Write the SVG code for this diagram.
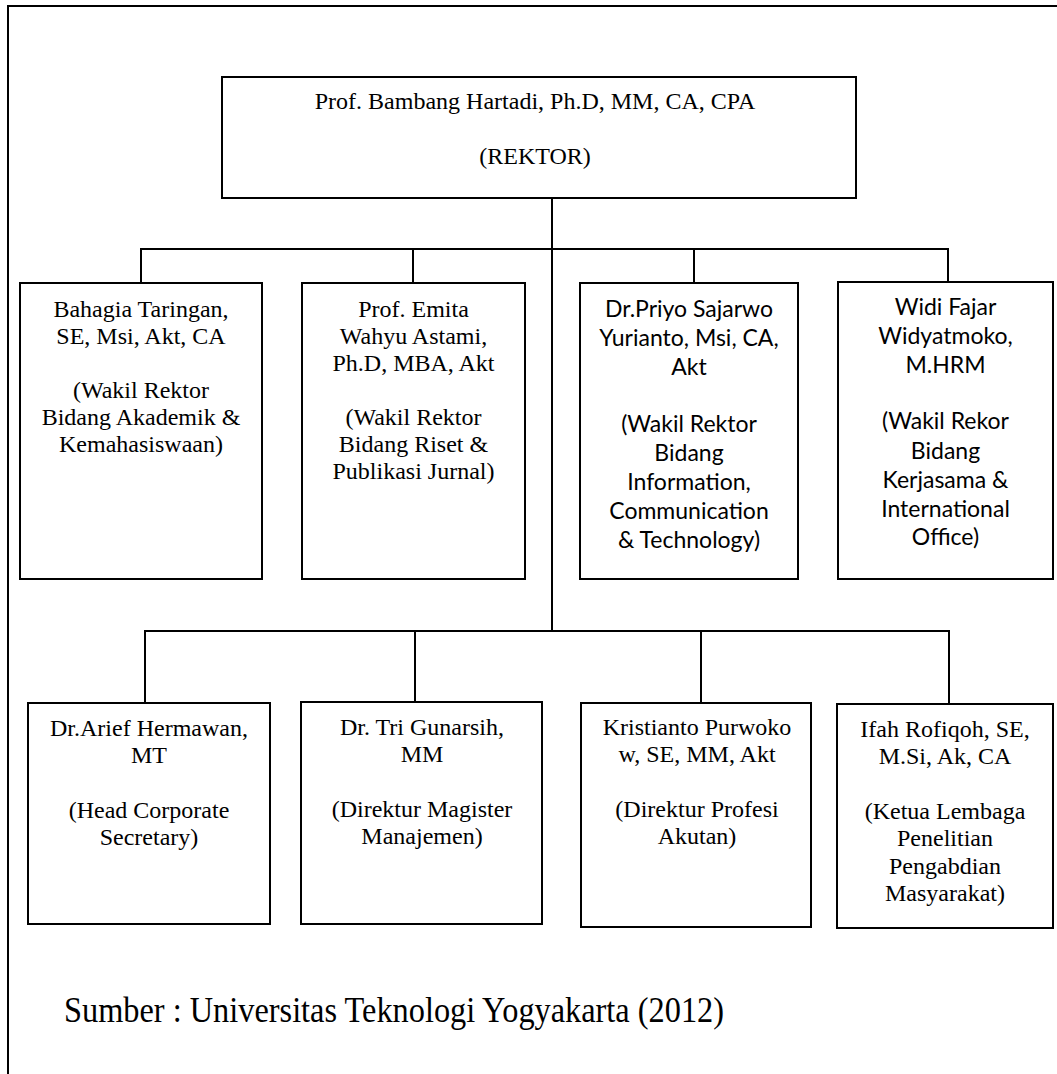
<svg xmlns="http://www.w3.org/2000/svg" width="1057" height="1074" viewBox="0 0 1057 1074">
<style>
.box{fill:#fff;stroke:#000;stroke-width:2}
.ln{stroke:#000;stroke-width:2;fill:none}
.t{font-family:"Liberation Serif","Times New Roman",serif;font-size:24px;fill:#000;text-anchor:middle}
.c{font-family:Lato,"Open Sans",sans-serif;font-size:23px;fill:#000;text-anchor:middle}
</style>
<rect width="1057" height="1074" fill="#fff"/>
<path class="ln" d="M8 1074 V6 H1057"/>
<g id="connectors">
<path class="ln" d="M552 198 V631"/>
<path class="ln" d="M141 283 V249 H948 V282"/>
<path class="ln" d="M413 249 V283"/>
<path class="ln" d="M694 249 V283"/>
<path class="ln" d="M145 703 V631 H949 V704"/>
<path class="ln" d="M415 631 V702"/>
<path class="ln" d="M701 631 V703"/>
</g>
<g id="rektor">
<rect class="box" x="222" y="77" width="634" height="121"/>
<text class="t" x="535" y="109">Prof. Bambang Hartadi, Ph.D, MM, CA, CPA</text>
<text class="t" x="535" y="164">(REKTOR)</text>
</g>
<g id="wr1">
<rect class="box" x="20" y="283" width="242" height="296"/>
<text class="t" x="141" y="317">Bahagia Taringan,</text>
<text class="t" x="141" y="344">SE, Msi, Akt, CA</text>
<text class="t" x="141" y="398">(Wakil Rektor</text>
<text class="t" x="141" y="425">Bidang Akademik &amp;</text>
<text class="t" x="141" y="452">Kemahasiswaan)</text>
</g>
<g id="wr2">
<rect class="box" x="302" y="283" width="223" height="296"/>
<text class="t" x="413.5" y="317">Prof. Emita</text>
<text class="t" x="413.5" y="344">Wahyu Astami,</text>
<text class="t" x="413.5" y="371">Ph.D, MBA, Akt</text>
<text class="t" x="413.5" y="425">(Wakil Rektor</text>
<text class="t" x="413.5" y="452">Bidang Riset &amp;</text>
<text class="t" x="413.5" y="479">Publikasi Jurnal)</text>
</g>
<g id="wr3">
<rect class="box" x="580" y="283" width="218" height="296"/>
<text class="c" x="689" y="317">Dr.Priyo Sajarwo</text>
<text class="c" x="689" y="346">Yurianto, Msi, CA,</text>
<text class="c" x="689" y="375">Akt</text>
<text class="c" x="689" y="432">(Wakil Rektor</text>
<text class="c" x="689" y="461">Bidang</text>
<text class="c" x="689" y="490">Information,</text>
<text class="c" x="689" y="519">Communication</text>
<text class="c" x="689" y="548">&amp; Technology)</text>
</g>
<g id="wr4">
<rect class="box" x="838" y="282" width="215" height="297"/>
<text class="c" x="945.5" y="315">Widi Fajar</text>
<text class="c" x="945.5" y="344">Widyatmoko,</text>
<text class="c" x="945.5" y="373">M.HRM</text>
<text class="c" x="945.5" y="429">(Wakil Rekor</text>
<text class="c" x="945.5" y="459">Bidang</text>
<text class="c" x="945.5" y="488">Kerjasama &amp;</text>
<text class="c" x="945.5" y="517">International</text>
<text class="c" x="945.5" y="545">Office)</text>
</g>
<g id="corsec">
<rect class="box" x="28" y="703" width="242" height="221"/>
<text class="t" x="149" y="736">Dr.Arief Hermawan,</text>
<text class="t" x="149" y="763">MT</text>
<text class="t" x="149" y="818">(Head Corporate</text>
<text class="t" x="149" y="845">Secretary)</text>
</g>
<g id="mm">
<rect class="box" x="301" y="702" width="241" height="222"/>
<text class="t" x="422" y="735">Dr. Tri Gunarsih,</text>
<text class="t" x="422" y="762">MM</text>
<text class="t" x="422" y="817">(Direktur Magister</text>
<text class="t" x="422" y="844">Manajemen)</text>
</g>
<g id="profesi">
<rect class="box" x="581" y="703" width="230" height="224"/>
<text class="t" x="697" y="735">Kristianto Purwoko</text>
<text class="t" x="697" y="762">w, SE, MM, Akt</text>
<text class="t" x="697" y="817">(Direktur Profesi</text>
<text class="t" x="697" y="844">Akutan)</text>
</g>
<g id="lppm">
<rect class="box" x="837" y="704" width="216" height="224"/>
<text class="t" x="945" y="737">Ifah Rofiqoh, SE,</text>
<text class="t" x="945" y="764">M.Si, Ak, CA</text>
<text class="t" x="945" y="819">(Ketua Lembaga</text>
<text class="t" x="945" y="846">Penelitian</text>
<text class="t" x="945" y="874">Pengabdian</text>
<text class="t" x="945" y="901">Masyarakat)</text>
</g>
<text x="64" y="1022" font-family="Liberation Serif,Times New Roman,serif" font-size="35" textLength="660" lengthAdjust="spacingAndGlyphs">Sumber : Universitas Teknologi Yogyakarta (2012)</text>
</svg>
